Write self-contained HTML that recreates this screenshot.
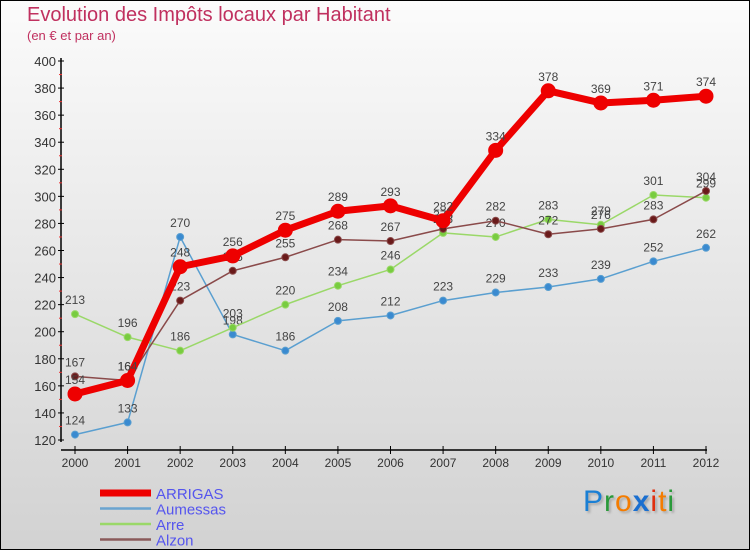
<!DOCTYPE html>
<html><head><meta charset="utf-8">
<style>
body{margin:0;}
#wrap{position:relative;width:750px;height:550px;box-sizing:border-box;border:1px solid #000;background:linear-gradient(#fbfbfb,#d2d2d2);font-family:"Liberation Sans",sans-serif;overflow:hidden}
.t{position:absolute;color:#c0305f;white-space:nowrap}
</style></head><body>
<div id="wrap">
<div class="t" style="left:26px;top:3px;font-size:20px;">Evolution des Impôts locaux par Habitant</div>
<div class="t" style="left:26px;top:27px;font-size:13px;">(en € et par an)</div>
<svg id="chart" width="750" height="550" style="position:absolute;left:-1px;top:-1px"></svg>
<div style="position:absolute;left:582px;top:484px;font-size:30px;letter-spacing:1px;text-shadow:2px 2px 2px #aaa"><span style="color:#1a7fd4">P</span><span style="color:#2a9a3a">r</span><span style="color:#f47c00">o</span><span style="color:#1a6fd0;font-weight:bold">x</span><span style="color:#e03010">i</span><span style="color:#f47c00">t</span><span style="color:#2a9a3a">i</span></div>
</div>
<script>
const years=[2000,2001,2002,2003,2004,2005,2006,2007,2008,2009,2010,2011,2012];
const yTicks=[120,140,160,180,200,220,240,260,280,300,320,340,360,380,400];
const arrigas=[154,164,248,256,275,289,293,282,334,378,369,371,374];
const aumessas=[124,133,270,198,186,208,212,223,229,233,239,252,262];
const arre=[213,196,186,203,220,234,246,273,270,283,279,301,299];
const alzon=[167,164,223,245,255,268,267,276,282,272,276,283,304];
const seriesNames=["ARRIGAS","Aumessas","Arre","Alzon"];
const svg=document.getElementById('chart');
const NS='http://www.w3.org/2000/svg';
const x=i=>75+i*(706-75)/(years.length-1);
const y=v=>440-(v-120)*(440-61)/(400-120);
function mk(tag,attrs){const e=document.createElementNS(NS,tag);for(const k in attrs)e.setAttribute(k,attrs[k]);svg.appendChild(e);return e;}
let ax=mk('line',{x1:61,y1:58,x2:61,y2:442,stroke:'#000','stroke-width':1.5});


let bx=mk('line',{x1:61,y1:450,x2:707,y2:450,stroke:'#000','stroke-width':1.5});


yTicks.forEach(v=>{
  mk('line',{x1:58,y1:y(v),x2:64,y2:y(v),stroke:'#000'});
  if(v<400) mk('line',{x1:59,y1:y(v+10),x2:62,y2:y(v+10),stroke:'#e33'});
  const t=mk('text',{x:56,y:y(v)+5,'text-anchor':'end','font-size':13,fill:'#333'});
  t.textContent=v;
  
  
});
years.forEach((yr,i)=>{
  mk('line',{x1:x(i),y1:446,x2:x(i),y2:454,stroke:'#000'});
  const t=mk('text',{x:x(i),y:467,'text-anchor':'middle','font-size':12,fill:'#333'});
  t.textContent=yr;
  
  
});
function series(data,name,color,w,r,fill){
  const g=document.createElementNS(NS,'g');svg.appendChild(g);
  
  
  const p=document.createElementNS(NS,'polyline');
  p.setAttribute('points',data.map((v,i)=>x(i)+','+y(v)).join(' '));
  p.setAttribute('fill','none');p.setAttribute('stroke',color);p.setAttribute('stroke-width',w);p.setAttribute('stroke-linejoin','round');
  g.appendChild(p);
  data.forEach((v,i)=>{
    const c=document.createElementNS(NS,'circle');
    c.setAttribute('cx',x(i));c.setAttribute('cy',y(v));c.setAttribute('r',r);c.setAttribute('fill',fill);c.setAttribute('stroke',color);
    
    
    g.appendChild(c);
    const t=document.createElementNS(NS,'text');
    t.setAttribute('x',x(i));t.setAttribute('y',y(v)-10);t.setAttribute('text-anchor','middle');t.setAttribute('font-size',12);t.setAttribute('fill','#444');
    t.textContent=v;
    
    
    g.appendChild(t);
  });
}
series(aumessas,'Aumessas','#5a9fd0',1.5,3.5,'#3a8ad0');
series(arre,'Arre','#9ad868',1.5,3.5,'#78cc40');
series(alzon,'Alzon','#8a4a4a',1.5,3.5,'#6a1a1a');
series(arrigas,'ARRIGAS','#ee0000',7,7,'#ee0000');
const legColors=['#ee0000','#6aa4d0','#9ad868','#8a5a5a'];
const legW=[7,2.5,2.5,2.5];
seriesNames.forEach((n,i)=>{
  const ly=493+i*15.5;
  const l=mk('line',{x1:100,y1:ly,x2:151,y2:ly,stroke:legColors[i],'stroke-width':legW[i]});
  
  
  const t=mk('text',{x:156,y:ly+6,'font-size':15,fill:'#5555ee'});
  t.textContent=n;
  
  
});
</script>
</body></html>
